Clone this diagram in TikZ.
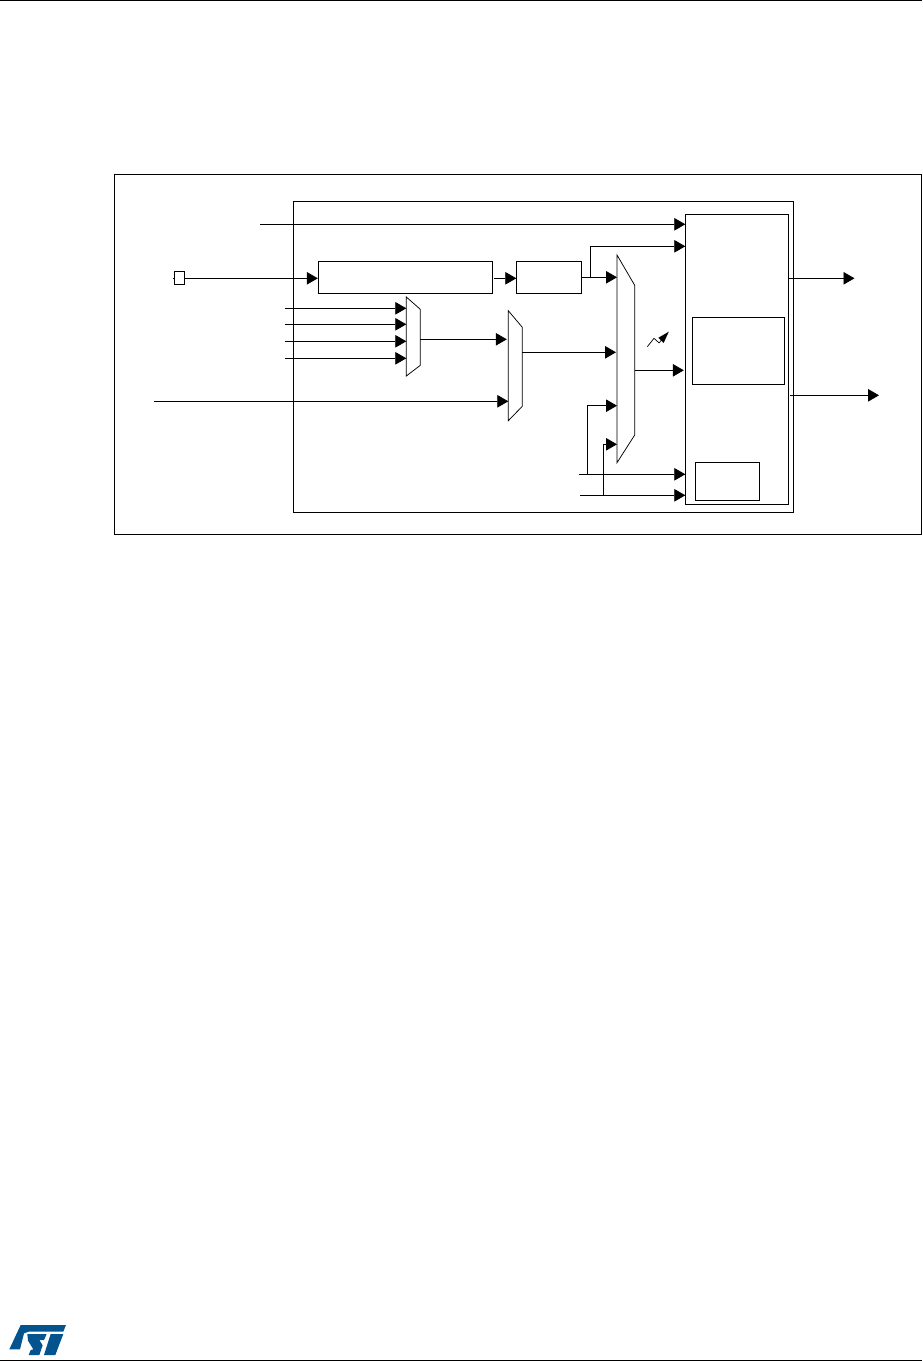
\documentclass[tikz,border=0pt]{standalone}
\usetikzlibrary{arrows.meta,calc}
\definecolor{stblue}{RGB}{3,83,143}
\tikzset{
  x=1pt,y=-1pt,
  wire/.style={draw=black,line width=0.75pt},
  arr/.style={wire,-{Triangle[length=11pt,width=12.5pt]}},
  blockbox/.style={draw=black,line width=0.75pt,rectangle,inner sep=0pt,outer sep=0pt},
  muxshape/.style={draw=black,line width=0.75pt,fill=white,line join=miter},
  rule/.style={draw=black,line width=1pt}
}
\newcommand{\boxnode}[5]{% name, x1, y1, x2, y2
  \node[blockbox,anchor=north west,minimum width={#4-#2},minimum height={#5-#3}] (#1) at (#2,#3) {};}
\begin{document}
\begin{tikzpicture}
\useasboundingbox (0,0) rectangle (922,1361);
% page rules
\coordinate (topL) at (0,0.5); \coordinate (topR) at (922,0.5);
\coordinate (botL) at (0,1360.3); \coordinate (botR) at (922,1360.3);
\draw[rule] (topL) -- (topR);
\draw[rule] (botL) -- (botR);
% frames and blocks
\boxnode{outer}{114.3}{174.3}{921.5}{534.3}
\boxnode{inner}{293.3}{201.3}{793.7}{512.3}
\boxnode{rcc}{685.3}{214.3}{788.7}{504.3}
\boxnode{presc}{692.3}{317.3}{784.7}{384.3}
\boxnode{cal}{695.3}{462.3}{759.7}{500.3}
\boxnode{osc}{318.3}{261.3}{492.7}{293.3}
\boxnode{divb}{516.3}{261.3}{581.7}{293.3}
\boxnode{pin}{174.3}{271.3}{184.7}{284.5}
% muxes
\draw[muxshape] (406.3,297) coordinate (ma) -- (420.3,309.3) coordinate (mb) -- (420.3,365.3) coordinate (mc) -- (406.3,376) coordinate (md) -- cycle;
\draw[muxshape] (508.3,310.7) coordinate (na) -- (522.3,327.3) coordinate (nb) -- (522.3,406.3) coordinate (nc) -- (508.3,420.7) coordinate (nd) -- cycle;
\draw[muxshape] (617,255) coordinate (pa) -- (634.7,285.3) coordinate (pb) -- (634.7,435) coordinate (pc) -- (617,462.7) coordinate (pd) -- cycle;
% free ends
\coordinate (s1) at (260,224.3);
\coordinate (s2) at (173.3,278.3);
\coordinate (i1) at (285,308.3);
\coordinate (i2) at (285,324.3);
\coordinate (i3) at (285,341.3);
\coordinate (i4) at (285,358.3);
\coordinate (i5) at (154,401.3);
\coordinate (c1) at (579,474.3);
\coordinate (c2) at (580,495.3);
\coordinate (o1) at (854.5,278.3);
\coordinate (o2) at (879,395.3);
% wires
\draw[arr] (s1) -- (rcc.west |- s1);
\draw[wire] (s2) -- (pin.west |- s2);
\draw[arr] (pin.east |- s2) -- ($(osc.west |- s2)+(-0.5,0)$);
\draw[arr] ($(osc.east |- s2)+(1.5,0)$) -- (divb.west |- s2);
\draw[arr] (divb.east |- 0,277.3) -- (pa |- 0,277.3);
\draw[arr] (590.3,277.3) -- (590.3,246.3) -- (rcc.west |- 0,246.3);
\foreach \n in {i1,i2,i3,i4} { \draw[arr] (\n) -- (ma |- \n); }
\draw[arr] (mb |- 0,339.3) -- ($(na |- 0,339.3)+(-1.5,0)$);
\draw[arr] (i5) -- (na |- i5);
\draw[arr] (nb |- 0,352.3) -- ($(pa |- 0,352.3)+(-1,0)$);
\draw[arr] (pb |- 0,370.3) -- ($(rcc.west |- 0,370.3)+(-1.5,0)$);
\draw[arr] (c1) -- (rcc.west |- c1);
\draw[arr] (c2) -- (rcc.west |- c2);
\draw[arr] (587.3,474.3) -- (587.3,405.7) -- (pa |- 0,405.7);
\draw[arr] (603.3,495.3) -- (603.3,444.3) -- (pa |- 0,444.3);
\draw[arr] (rcc.east |- o1) -- (o1);
\draw[arr] (790,395.3) -- (o2);
% zigzag symbol
\coordinate (z0) at (647.3,346.7);
\coordinate (z1) at (654,338.3);
\coordinate (z2) at (659,342.9);
\coordinate (z3) at (668.8,331.7);
\draw[wire,line width=0.7pt] (z0) -- (z1) -- (z2) -- (662,339.5);
\fill[black] (z3) -- (663.6,343) -- (658.3,337.8) -- cycle;
% logo
\begin{scope}[shift={(0,1290)},x=0.3333pt,y=-0.3333pt]
\fill[stblue] (62,105) -- (198,105) -- (190,125) -- (86,125) -- (72,130) -- (60,178) -- (28,178) -- cycle;
\fill[stblue] (82,132) -- (140,132) -- (132,150) -- (118,150) -- (128,166) -- (118,195) -- (86,195) -- (92,180) -- (100,178) -- (84,152) -- cycle;
\fill[stblue] (152,132) -- (190,132) -- (166,195) -- (132,195) -- cycle;
\end{scope}
\end{tikzpicture}
\end{document}
